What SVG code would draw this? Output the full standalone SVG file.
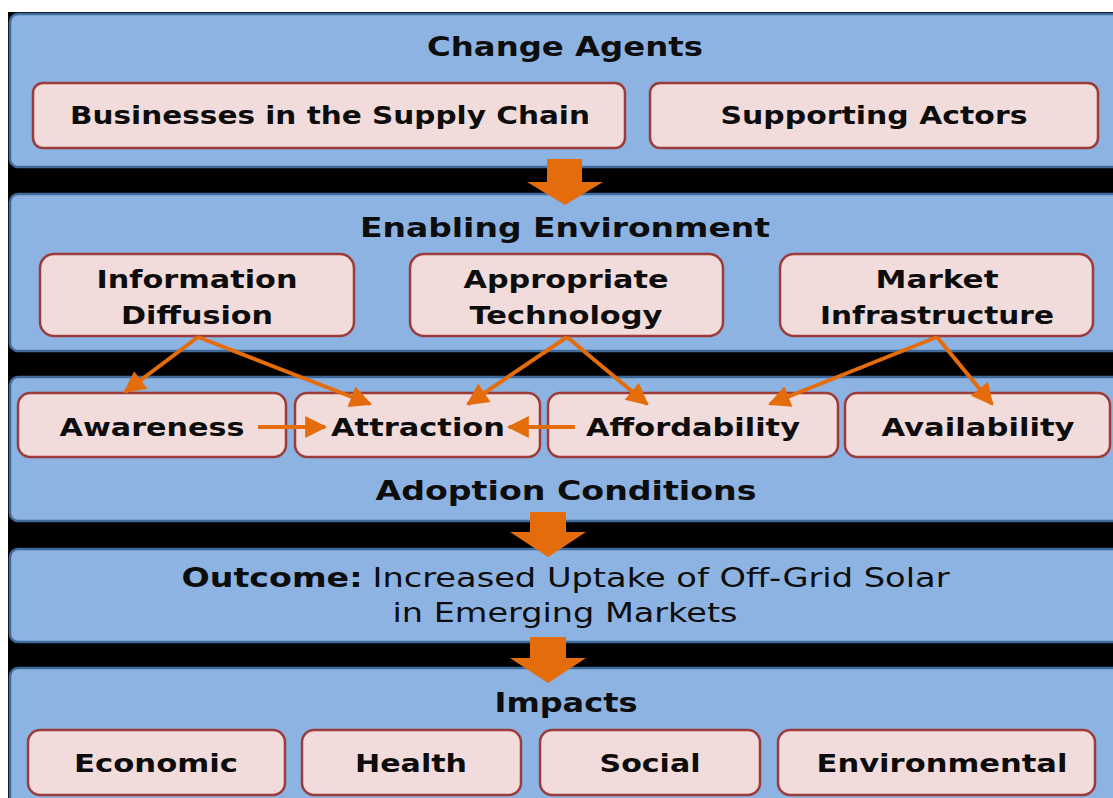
<svg xmlns="http://www.w3.org/2000/svg" width="1113" height="798" viewBox="0 0 1113 798">
  <style>
    .panel { fill: #8db3e2; stroke: #3f6b9c; stroke-width: 2.5; }
    .box { fill: #f2dcdb; stroke: #9b3b3a; stroke-width: 2.5; }
    .t { font-family: "DejaVu Sans", "Liberation Sans", sans-serif; font-weight: bold; fill: #0d0d0d; text-anchor: middle; }
    .big { font-size: 26px; }
    .lbl { font-size: 25px; }
    .reg { font-weight: normal; }
    .conn { stroke: #e46c0a; stroke-width: 4; fill: none; marker-end: url(#head); }
    .block { fill: #e46c0a; }
  </style>
  <defs>
    <marker id="head" viewBox="0 0 10 10" refX="9" refY="5" markerWidth="6" markerHeight="5.5" orient="auto" markerUnits="strokeWidth">
      <path d="M0,0 L10,5 L0,10 z" fill="#e46c0a"/>
    </marker>
  </defs>

  <!-- backdrop -->
  <rect x="8" y="12" width="1105" height="786" fill="#000"/>

  <!-- bands -->
  <g id="change-agents">
    <rect class="panel" x="10" y="14" width="1115" height="153" rx="8"/>
    <text class="t big" x="565" y="56" textLength="276" lengthAdjust="spacingAndGlyphs">Change Agents</text>
  </g>
  <g id="enabling-environment">
    <rect class="panel" x="10" y="194" width="1115" height="157" rx="8"/>
    <text class="t big" x="565" y="237" textLength="410" lengthAdjust="spacingAndGlyphs">Enabling Environment</text>
  </g>
  <g id="adoption-conditions">
    <rect class="panel" x="10" y="377" width="1115" height="144" rx="8"/>
    <text class="t big" x="566" y="500" textLength="381" lengthAdjust="spacingAndGlyphs">Adoption Conditions</text>
  </g>
  <g id="outcome">
    <rect class="panel" x="10" y="549" width="1115" height="93" rx="8"/>
    <text class="t big" x="272" y="587" textLength="181" lengthAdjust="spacingAndGlyphs">Outcome:</text>
    <text class="t big reg" x="661" y="587" textLength="577" lengthAdjust="spacingAndGlyphs">Increased Uptake of Off-Grid Solar</text>
    <text class="t big reg" x="565" y="622" textLength="345" lengthAdjust="spacingAndGlyphs">in Emerging Markets</text>
  </g>
  <g id="impacts">
    <rect class="panel" x="10" y="668" width="1115" height="150" rx="8"/>
    <text class="t big" x="566" y="712" textLength="143" lengthAdjust="spacingAndGlyphs">Impacts</text>
  </g>

  <!-- change agents -->
  <g id="businesses">
    <rect class="box" x="33" y="83" width="592" height="65" rx="10"/>
    <text class="t lbl" x="330" y="124" textLength="520" lengthAdjust="spacingAndGlyphs">Businesses in the Supply Chain</text>
  </g>
  <g id="supporting-actors">
    <rect class="box" x="650" y="83" width="448" height="65" rx="10"/>
    <text class="t lbl" x="874" y="124" textLength="307" lengthAdjust="spacingAndGlyphs">Supporting Actors</text>
  </g>

  <!-- enabling environment -->
  <g id="information-diffusion">
    <rect class="box" x="40" y="254" width="314" height="82" rx="14"/>
    <text class="t lbl" x="197" y="288" textLength="201" lengthAdjust="spacingAndGlyphs">Information</text>
    <text class="t lbl" x="197" y="324" textLength="152" lengthAdjust="spacingAndGlyphs">Diffusion</text>
  </g>
  <g id="appropriate-technology">
    <rect class="box" x="410" y="254" width="313" height="82" rx="14"/>
    <text class="t lbl" x="566" y="288" textLength="205" lengthAdjust="spacingAndGlyphs">Appropriate</text>
    <text class="t lbl" x="566" y="324" textLength="193" lengthAdjust="spacingAndGlyphs">Technology</text>
  </g>
  <g id="market-infrastructure">
    <rect class="box" x="780" y="254" width="313" height="82" rx="14"/>
    <text class="t lbl" x="937" y="288" textLength="123" lengthAdjust="spacingAndGlyphs">Market</text>
    <text class="t lbl" x="937" y="324" textLength="234" lengthAdjust="spacingAndGlyphs">Infrastructure</text>
  </g>

  <!-- adoption conditions -->
  <g id="awareness">
    <rect class="box" x="18" y="393" width="268" height="64" rx="12"/>
    <text class="t lbl" x="152" y="436" textLength="185" lengthAdjust="spacingAndGlyphs">Awareness</text>
  </g>
  <g id="attraction">
    <rect class="box" x="295" y="393" width="245" height="64" rx="12"/>
    <text class="t lbl" x="418" y="436" textLength="174" lengthAdjust="spacingAndGlyphs">Attraction</text>
  </g>
  <g id="affordability">
    <rect class="box" x="548" y="393" width="290" height="64" rx="12"/>
    <text class="t lbl" x="693" y="436" textLength="214" lengthAdjust="spacingAndGlyphs">Affordability</text>
  </g>
  <g id="availability">
    <rect class="box" x="845" y="393" width="265" height="64" rx="12"/>
    <text class="t lbl" x="978" y="436" textLength="193" lengthAdjust="spacingAndGlyphs">Availability</text>
  </g>

  <!-- impacts -->
  <g id="economic">
    <rect class="box" x="28" y="730" width="257" height="65" rx="12"/>
    <text class="t lbl" x="156" y="772" textLength="164" lengthAdjust="spacingAndGlyphs">Economic</text>
  </g>
  <g id="health">
    <rect class="box" x="302" y="730" width="219" height="65" rx="12"/>
    <text class="t lbl" x="411" y="772" textLength="112" lengthAdjust="spacingAndGlyphs">Health</text>
  </g>
  <g id="social">
    <rect class="box" x="540" y="730" width="220" height="65" rx="12"/>
    <text class="t lbl" x="650" y="772" textLength="101" lengthAdjust="spacingAndGlyphs">Social</text>
  </g>
  <g id="environmental">
    <rect class="box" x="778" y="730" width="317" height="65" rx="12"/>
    <text class="t lbl" x="942" y="772" textLength="251" lengthAdjust="spacingAndGlyphs">Environmental</text>
  </g>

  <!-- connectors -->
  <g id="connectors">
    <path class="block" d="M547,159 H582 V182 H603 L565,205 L527,182 H547 Z"/>
    <path class="block" d="M530,512 H566 V532 H586 L548,557 L510,532 H530 Z"/>
    <path class="block" d="M530,637 H566 V658 H586 L548,683 L510,658 H530 Z"/>
    <line class="conn" x1="198" y1="337" x2="125" y2="392"/>
    <line class="conn" x1="198" y1="337" x2="370" y2="404"/>
    <line class="conn" x1="567" y1="337" x2="468" y2="404"/>
    <line class="conn" x1="567" y1="337" x2="647" y2="404"/>
    <line class="conn" x1="937" y1="337" x2="770" y2="404"/>
    <line class="conn" x1="937" y1="337" x2="992" y2="404"/>
    <line class="conn" x1="258" y1="427" x2="325" y2="427"/>
    <line class="conn" x1="575" y1="427" x2="509" y2="427"/>
  </g>
</svg>
